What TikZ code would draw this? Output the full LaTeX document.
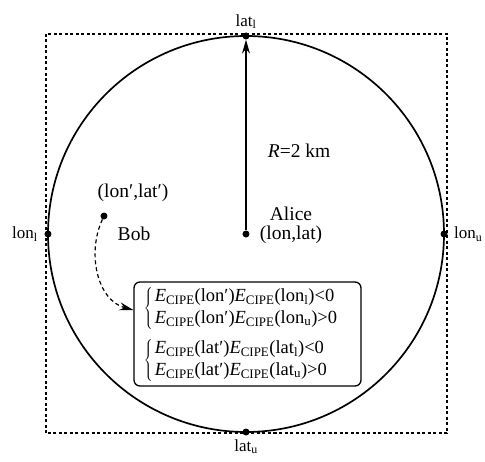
\documentclass[tikz,border=0pt]{standalone}
\usepackage{fontspec}
\setmainfont{Liberation Serif}
\usetikzlibrary{positioning,arrows.meta}
\newcommand{\ecipe}{\textit{E}\textsubscript{CIPE}}
\tikzset{dot/.style={circle,fill,inner sep=0pt,minimum size=7pt},
  bigtxt/.style={font=\fontsize{19.5}{19}\selectfont}}
\begin{document}
\begin{tikzpicture}[x=1pt,y=1pt,font=\fontsize{17}{19}\selectfont,>={Stealth[length=14pt,width=8pt]}]
\useasboundingbox (-246,-227) rectangle (239,234);
\draw[line width=1.3pt,dash pattern=on 3pt off 2.5pt] (-200,-199) rectangle (201,200);
\draw[line width=1.7pt] (0,0) circle (198);
\node[dot] (alice) at (0,0) {};
\node[dot] (top) at (90:198) {};
\node[dot] (bottom) at (-90:198) {};
\node[dot] (left) at (180:198) {};
\node[dot] (right) at (0:198) {};
\node[dot] (bob) at (-142,18) {};
\node[above=0pt of top] (latl) {lat\textsubscript{l}};
\node[below=0pt of bottom] (latu) {lat\textsubscript{u}};
\node[left=3pt of left] (lonl) {lon\textsubscript{l}};
\node[right=3pt of right] (lonu) {lon\textsubscript{u}};
\node[bigtxt,align=center,inner sep=0pt,right=10pt of alice,yshift=9pt] (alicetxt) {Alice\\(lon,lat)};
\node[bigtxt] at (-113,41) (bobpos) {(lon′,lat′)};
\node[bigtxt] at (-112,0) (bobtxt) {Bob};
\draw[->,line width=1.2pt] (alice) -- node[bigtxt,right=18pt,pos=0.42] (radius) {\textit{R}=2 km} (top);
\node[draw,line width=1.3pt,rounded corners=6pt,align=left,inner xsep=10pt,inner ysep=4pt,text width=207pt,minimum height=102pt,
  font=\fontsize{18.5}{22}\selectfont] (cond) at (1.5,-100)
  {$\left\{\mkern2mu\mbox{\begin{tabular}{@{}l@{}}\ecipe(lon′)\ecipe(lon\textsubscript{l})<0\\ \ecipe(lon′)\ecipe(lon\textsubscript{u})>0\end{tabular}}\right.$\\[7pt]
   $\left\{\mkern2mu\mbox{\begin{tabular}{@{}l@{}}\ecipe(lat′)\ecipe(lat\textsubscript{l})<0\\ \ecipe(lat′)\ecipe(lat\textsubscript{u})>0\end{tabular}}\right.$};
\draw[->,line width=1.2pt,dash pattern=on 4pt off 3pt] (bob) to[out=-115,in=165] ([yshift=24pt]cond.west);
\end{tikzpicture}
\end{document}
